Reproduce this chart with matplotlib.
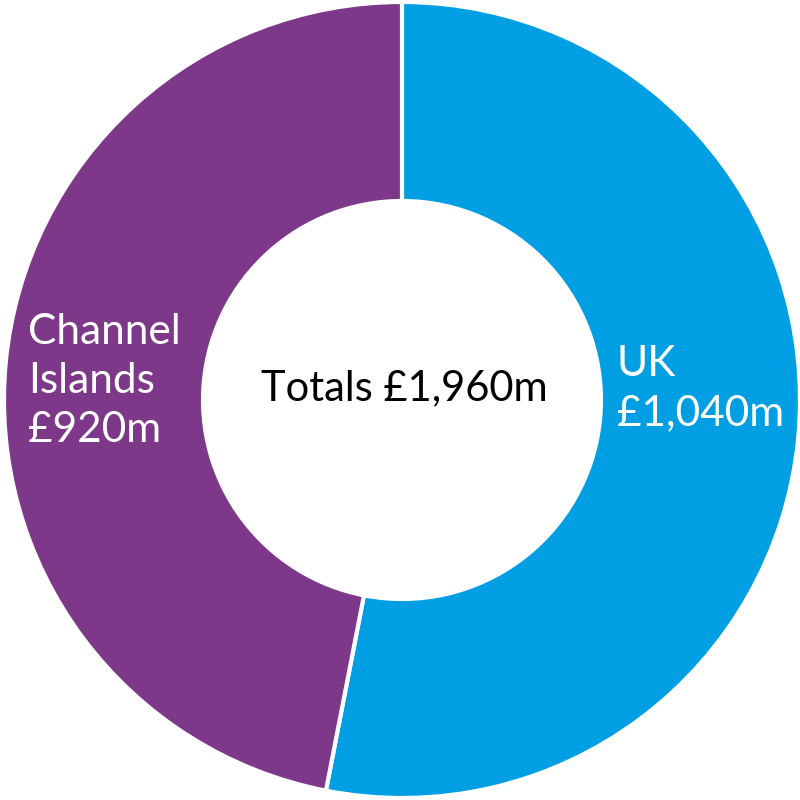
import matplotlib
matplotlib.use("Agg")
import matplotlib.pyplot as plt

labels = ["UK", "Channel\nIslands"]
values = [1040, 920]
colors = ["#009FE3", "#7E3889"]
total_label = "Totals £1,960m"

plt.rcParams["font.family"] = ["Lato", "DejaVu Sans"]

fig = plt.figure(figsize=(8, 8), dpi=100)
ax = fig.add_axes([0, 0, 1, 1])
ax.pie(values, colors=colors, startangle=90, counterclock=False,
       radius=1.0, wedgeprops=dict(width=0.5, edgecolor="white", linewidth=3))
ax.set_xlim(-1.01, 1.0)
ax.set_ylim(-1.005, 1.005)
ax.set_aspect("equal")
ax.axis("off")

def money(v):
    return f"£{v:,}m"

ax.text(0.54, 0.029, f"{labels[0]}\n{money(values[0])}", color="white",
        fontsize=30.5, ha="left", va="center", linespacing=1.35)
ax.text(-0.94, 0.048, f"{labels[1]}\n{money(values[1])}", color="white",
        fontsize=30.5, ha="left", va="center", linespacing=1.35)
ax.text(0.005, 0.03, total_label, color="black", fontsize=30,
        ha="center", va="center")

fig.savefig("out.png", dpi=100)
